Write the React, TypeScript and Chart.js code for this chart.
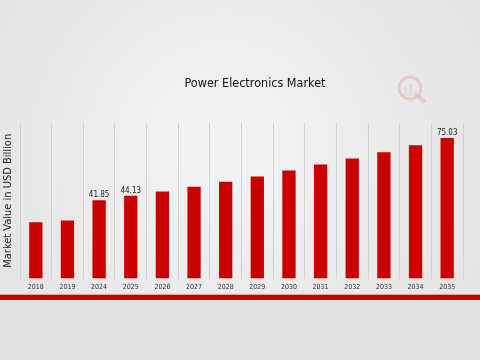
import React, { useEffect, useRef } from "react";
import { Chart, registerables } from "chart.js";

Chart.register(...registerables);

const years = ["2018", "2019", "2024", "2025", "2026", "2027", "2028", "2029", "2030", "2031", "2032", "2033", "2034", "2035"];
const marketValues = [30.0, 31.0, 41.85, 44.13, 46.5, 49.0, 51.7, 54.4, 57.6, 60.8, 64.0, 67.4, 71.1, 75.03];
const labeledIndices = [2, 3, 13];
const chartTitle = "Power Electronics Market";
const yAxisTitle = "Market Value in USD Billion";

const FONT = "'Liberation Sans Narrow', 'DejaVu Sans Condensed', 'DejaVu Sans', sans-serif";

const decorPlugin = {
  id: "decor",
  beforeDraw(chart: any) {
    const { ctx, width, height } = chart;
    ctx.save();
    const g = ctx.createRadialGradient(width * 0.45, height * 0.4, 20, width * 0.5, height * 0.45, width * 0.7);
    g.addColorStop(0, "#f3f3f3");
    g.addColorStop(1, "#e0e0e0");
    ctx.fillStyle = g;
    ctx.fillRect(0, 0, width, 297);
    ctx.fillStyle = "#e1e1e1";
    ctx.fillRect(0, 297, width, height - 297);
    // faint logo
    ctx.globalAlpha = 0.13;
    ctx.strokeStyle = "#cc0000";
    ctx.lineWidth = 3;
    ctx.beginPath();
    ctx.arc(410, 88, 11, 0, Math.PI * 2);
    ctx.stroke();
    ctx.beginPath();
    ctx.moveTo(418, 96);
    ctx.lineTo(425, 102);
    ctx.lineWidth = 4;
    ctx.stroke();
    ctx.fillStyle = "#888888";
    ctx.fillRect(404, 88, 3, 8);
    ctx.fillRect(409, 84, 3, 12);
    ctx.fillRect(414, 90, 3, 6);
    ctx.restore();
  },
  afterDraw(chart: any) {
    const { ctx, width } = chart;
    ctx.save();
    ctx.fillStyle = "#e6a0a0";
    ctx.fillRect(0, 294, width, 1);
    ctx.fillStyle = "#c40000";
    ctx.fillRect(0, 295, width, 5);
    ctx.fillStyle = "#111111";
    ctx.font = "12.5px " + FONT;
    ctx.textAlign = "center";
    ctx.textBaseline = "middle";
    ctx.fillText(chartTitle, 255, 84);
    ctx.restore();
  },
  afterDatasetsDraw(chart: any) {
    const { ctx } = chart;
    const meta = chart.getDatasetMeta(0);
    ctx.save();
    ctx.fillStyle = "#222222";
    ctx.font = "8px " + FONT;
    ctx.textAlign = "center";
    ctx.textBaseline = "bottom";
    labeledIndices.forEach((i) => {
      const el = meta.data[i];
      ctx.fillText(marketValues[i].toFixed(2), el.x, el.y - 1);
    });
    ctx.restore();
  },
};

export default function App() {
  const ref = useRef<HTMLCanvasElement>(null);
  useEffect(() => {
    const chart = new Chart(ref.current!, {
      type: "bar",
      data: {
        labels: years,
        datasets: [
          {
            data: marketValues,
            backgroundColor: "#c80000",
            borderWidth: 0,
            barPercentage: 0.84,
            categoryPercentage: 0.5,
          },
        ],
      },
      options: {
        responsive: false,
        animation: false,
        layout: { padding: { left: 0, right: 17, top: 123, bottom: 65 } },
        plugins: { legend: { display: false }, tooltip: { enabled: false }, title: { display: false } },
        scales: {
          x: {
            grid: { display: true, offset: true, color: "#d2d2d2", drawTicks: false },
            border: { display: false },
            ticks: { color: "#333333", font: { size: 7, family: FONT }, padding: 4, maxRotation: 0 },
          },
          y: {
            min: 0,
            max: 83,
            grid: { display: false },
            border: { display: false },
            ticks: { display: false },
            title: { display: true, text: yAxisTitle, color: "#222222", font: { size: 11, family: FONT }, padding: { top: 2, bottom: 4 } },
            afterFit: (axis: any) => {
              axis.width = 20;
            },
          },
        },
      },
      plugins: [decorPlugin],
    });
    return () => chart.destroy();
  }, []);
  return (
    <div style={{ position: "absolute", left: 0, top: 0, width: 480, height: 360 }}>
      <canvas ref={ref} width={480} height={360} />
    </div>
  );
}
